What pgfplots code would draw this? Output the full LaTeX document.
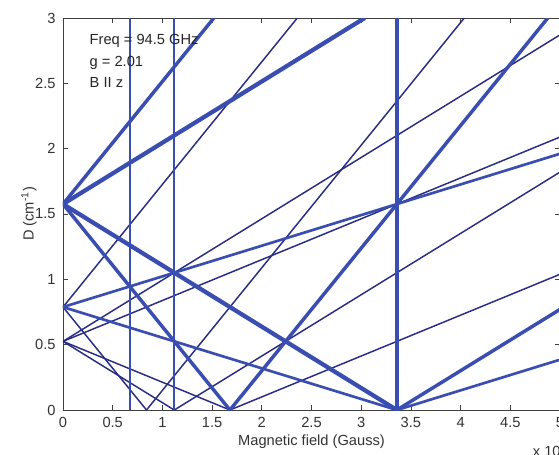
\documentclass[border=0pt]{standalone}
\usepackage{fontspec}
\setmainfont{Liberation Sans}
\usepackage{pgfplots}
\pgfplotsset{compat=1.18}
\definecolor{thk}{RGB}{58,78,178}
\definecolor{thn}{RGB}{40,44,132}
\begin{document}
\begin{tikzpicture}
\begin{axis}[
    name=ax,
    scale only axis,
    width=372.75pt, height=294pt,
    xmin=0, xmax=5, ymin=0, ymax=3,
    xtick={0,0.5,1,1.5,2,2.5,3,3.5,4,4.5,5},
    xticklabels={0,0.5,1,1.5,2,2.5,3,3.5,4,4.5,5},
    ytick={0,0.5,1,1.5,2,2.5,3},
    yticklabels={0,0.5,1,1.5,2,2.5,3},
    tick align=inside,
    major tick length=3.75pt,
    tick style={color=black!75, line width=0.5pt},
    axis line style={black!75, line width=0.6pt},
    every tick label/.append style={font=\fontsize{11}{13}\selectfont, text=black!80},
    xticklabel style={yshift=-2pt},
    yticklabel style={xshift=-2pt},
    xlabel={Magnetic field (Gauss)},
    ylabel={D (cm\textsuperscript{-1})},
    label style={font=\fontsize{11}{13}\selectfont, text=black!80},
    xlabel style={at={(axis description cs:0.5,0)}, anchor=center, yshift=-24pt},
    ylabel style={at={(axis description cs:0,0.5)}, anchor=center, yshift=25.5pt},
    clip mode=individual,
]
% forbidden transitions (thin)
\addplot[thn, line width=1.1pt] coordinates {(0,0.5253) (1.6795,0)};
\addplot[thn, line width=1.1pt] coordinates {(0,0.5253) (5,2.089)};
\addplot[thn, line width=1.1pt] coordinates {(1.6795,0) (5,1.0387)};
\addplot[thn, line width=1.1pt] coordinates {(0,0.5253) (1.1197,0)};
\addplot[thn, line width=1.1pt] coordinates {(0,0.5253) (5,2.871)};
\addplot[thn, line width=1.1pt] coordinates {(1.1197,0) (5,1.8207)};
\addplot[thn, line width=1.1pt] coordinates {(0,0.788) (0.8398,0)};
\addplot[thn, line width=1.1pt] coordinates {(0,0.788) (2.357,3)};
\addplot[thn, line width=1.1pt] coordinates {(0.8398,0) (4.037,3)};
% vertical lines
\addplot[thk, line width=1.7pt] coordinates {(0.6718,0) (0.6718,3)};
\addplot[thk, line width=1.7pt] coordinates {(1.1197,0) (1.1197,3)};
% medium
\addplot[thk, line width=2.0pt] coordinates {(0,0.788) (3.359,0)};
\addplot[thk, line width=2.0pt] coordinates {(0,0.788) (5,1.961)};
\addplot[thk, line width=2.0pt] coordinates {(3.359,0) (5,0.385)};
% thick
\addplot[thk, line width=2.6pt] coordinates {(3.359,0) (3.359,3)};
\addplot[thk, line width=2.6pt] coordinates {(3.359,0) (5,0.770)};
\addplot[thk, line width=2.6pt] coordinates {(0,1.576) (1.6795,0)};
\addplot[thk, line width=2.6pt] coordinates {(0,1.576) (1.5175,3)};
\addplot[thk, line width=2.6pt] coordinates {(1.6795,0) (4.877,3)};
\addplot[thk, line width=3.2pt] coordinates {(0,1.576) (3.359,0)};
\addplot[thk, line width=3.2pt] coordinates {(0,1.576) (3.035,3)};
% annotations
\node[anchor=base west, font=\fontsize{11}{13}\selectfont, text=black!85] at (axis cs:0.221,2.80) {Freq = 94.5 GHz};
\node[anchor=base west, font=\fontsize{11}{13}\selectfont, text=black!85] at (axis cs:0.221,2.632) {g = 2.01};
\node[anchor=base west, font=\fontsize{11}{13}\selectfont, text=black!85] at (axis cs:0.221,2.471) {B II z};
\node[anchor=west, font=\fontsize{11}{13}\selectfont, text=black!80] at ([yshift=-30pt]axis cs:4.68,0) {x 10\textsuperscript{4}};
\end{axis}
\pgfresetboundingbox
\path[use as bounding box] ([xshift=-47.25pt,yshift=-33pt]ax.south west) rectangle ([xshift=-0.75pt,yshift=13.5pt]ax.north east);
\end{tikzpicture}
\end{document}
